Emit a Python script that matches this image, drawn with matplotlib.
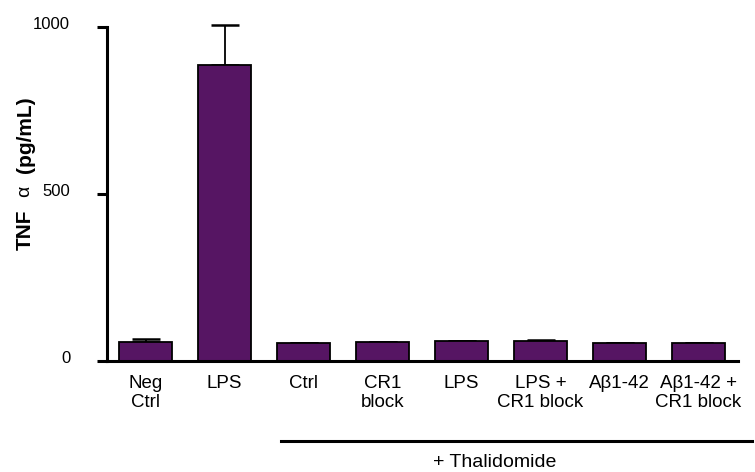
import numpy as np
import matplotlib
matplotlib.use("Agg")
import matplotlib.pyplot as plt
import matplotlib.transforms as mtransforms

# ---------------------------------------------------------
# datos
# ---------------------------------------------------------
grupos = ["Neg\nCtrl", "LPS", "Ctrl", "CR1\nblock", "LPS", "LPS +\nCR1 block",
          "Aβ1-42", "Aβ1-42 +\nCR1 block"]
tnf = [57, 886, 53, 56, 60, 59, 53, 53]
error = [8, 120, 2, 2, 1, 5, 1, 1]

color_barra = "#561563"

plt.rcParams["font.family"] = ["Liberation Sans", "DejaVu Sans"]

fig = plt.figure(figsize=(7.55, 4.72), dpi=100)
ax = fig.add_axes([0.1417, 0.2352, 0.8358, 0.7076])

x = np.arange(len(grupos))

ax.bar(x, tnf, width=0.67, color=color_barra, edgecolor="black", linewidth=1.3, zorder=2)

# barras de error solo hacia arriba
ax.errorbar(x, tnf, yerr=[np.zeros(len(error)), error], fmt="none", ecolor="black",
            elinewidth=1.3, capsize=10, capthick=1.8, clip_on=False, zorder=1)

ax.set_xlim(-0.49, 7.5)
ax.set_ylim(0, 1000)

ax.set_yticks([0, 500, 1000])
ax.set_yticklabels(["0", "500", "1000"], fontsize=12)
ax.set_xticks(x)
ax.set_xticklabels(grupos, fontsize=13.5)

ax.tick_params(axis="x", length=0, pad=10)
ax.tick_params(axis="y", length=7.5, width=2.2, pad=19)

# numeros del eje y un poco por encima de cada marca
subir = mtransforms.ScaledTranslation(0, 0.04, fig.dpi_scale_trans)
for etiqueta in ax.get_yticklabels():
    etiqueta.set_transform(etiqueta.get_transform() + subir)

for lado in ["top", "right"]:
    ax.spines[lado].set_visible(False)
for lado in ["left", "bottom"]:
    ax.spines[lado].set_linewidth(2.2)

# etiqueta del eje y (alfa en letra normal)
fig.text(25 / 755, 1 - 230 / 472, "TNF", rotation=90, fontsize=15,
         fontweight="bold", ha="center", va="center")
fig.text(25 / 755, 1 - 191 / 472, "α", rotation=90, fontsize=14,
         ha="center", va="center")
fig.text(25 / 755, 1 - 135 / 472, "(pg/mL)", rotation=90, fontsize=15,
         fontweight="bold", ha="center", va="center")

# linea de grupo + Thalidomide
trans = mtransforms.blended_transform_factory(ax.transData, fig.transFigure)
ax.plot([1.71, 7.68], [1 - 441 / 472, 1 - 441 / 472], color="black", linewidth=2.2,
        transform=trans, clip_on=False)
fig.text(495 / 755, 5 / 472, "+ Thalidomide", fontsize=14, ha="center", va="baseline")

fig.savefig("out.png", dpi=100)
